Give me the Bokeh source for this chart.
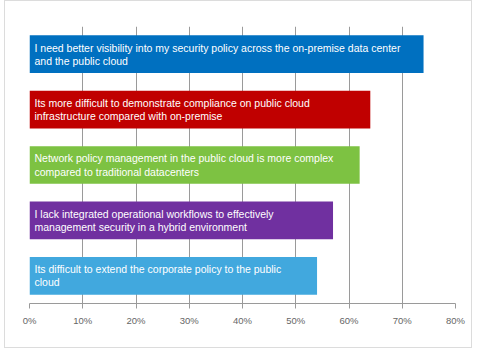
from bokeh.plotting import figure
from bokeh.models import ColumnDataSource, FactorRange, NumeralTickFormatter, FixedTicker, Range1d
from bokeh.core.properties import value
from bokeh.embed import file_html
from bokeh.resources import INLINE

statements = [
    "I need better visibility into my security policy across the on-premise data center\nand the public cloud",
    "Its more difficult to demonstrate compliance on public cloud\ninfrastructure compared with on-premise",
    "Network policy management in the public cloud is more complex\ncompared to traditional datacenters",
    "I lack integrated operational workflows to effectively\nmanagement security in a hybrid environment",
    "Its difficult to extend the corporate policy to the public\ncloud",
]
shares = [0.74, 0.64, 0.62, 0.57, 0.54]
tick_values = [0, 0.1, 0.2, 0.3, 0.4, 0.5, 0.6, 0.7, 0.8]

colors = ["#0070C0", "#C00000", "#7DC242", "#7030A0", "#41A8DE"]
keys = ["s%d" % i for i in range(len(statements))]

src = ColumnDataSource(dict(key=keys, label=statements, share=shares, color=colors))

p = figure(
    width=468, height=348,
    y_range=FactorRange(factors=list(reversed(keys)), range_padding=0),
    x_range=Range1d(0, 0.8),
    output_backend="svg", toolbar_location=None,
    min_border_left=24, min_border_right=18, min_border_top=25, min_border_bottom=46,
)
p.styles = {"border": "1px solid #dcdcdc", "margin-left": "4px"}
p.outline_line_color = None

p.hbar(y="key", left=0, right="share", height=0.68, color="color", line_color=None, source=src)
p.text(x=0, y="key", text="label", source=src, x_offset=5,
       text_align="left", text_baseline="middle", text_color="white",
       text_font=value("Liberation Sans"), text_font_size="10.5px",
       text_line_height=1.1)

p.yaxis.visible = False
p.ygrid.visible = False
p.xgrid.grid_line_color = "#9a9a9a"
p.xgrid.grid_line_width = 1
p.xaxis.ticker = FixedTicker(ticks=tick_values)
p.xaxis.formatter = NumeralTickFormatter(format="0%")
p.xaxis.axis_line_color = "#9a9a9a"
p.xaxis.major_tick_line_color = "#9a9a9a"
p.xaxis.major_tick_out = 5
p.xaxis.major_tick_in = 0
p.xaxis.minor_tick_line_color = None
p.xaxis.major_label_text_font = "Liberation Sans"
p.xaxis.major_label_text_font_size = "9.5px"
p.xaxis.major_label_text_color = "#666666"
p.xaxis.major_label_standoff = 6
p.grid.level = "underlay"

open("out.html", "w").write(file_html(p, INLINE))
